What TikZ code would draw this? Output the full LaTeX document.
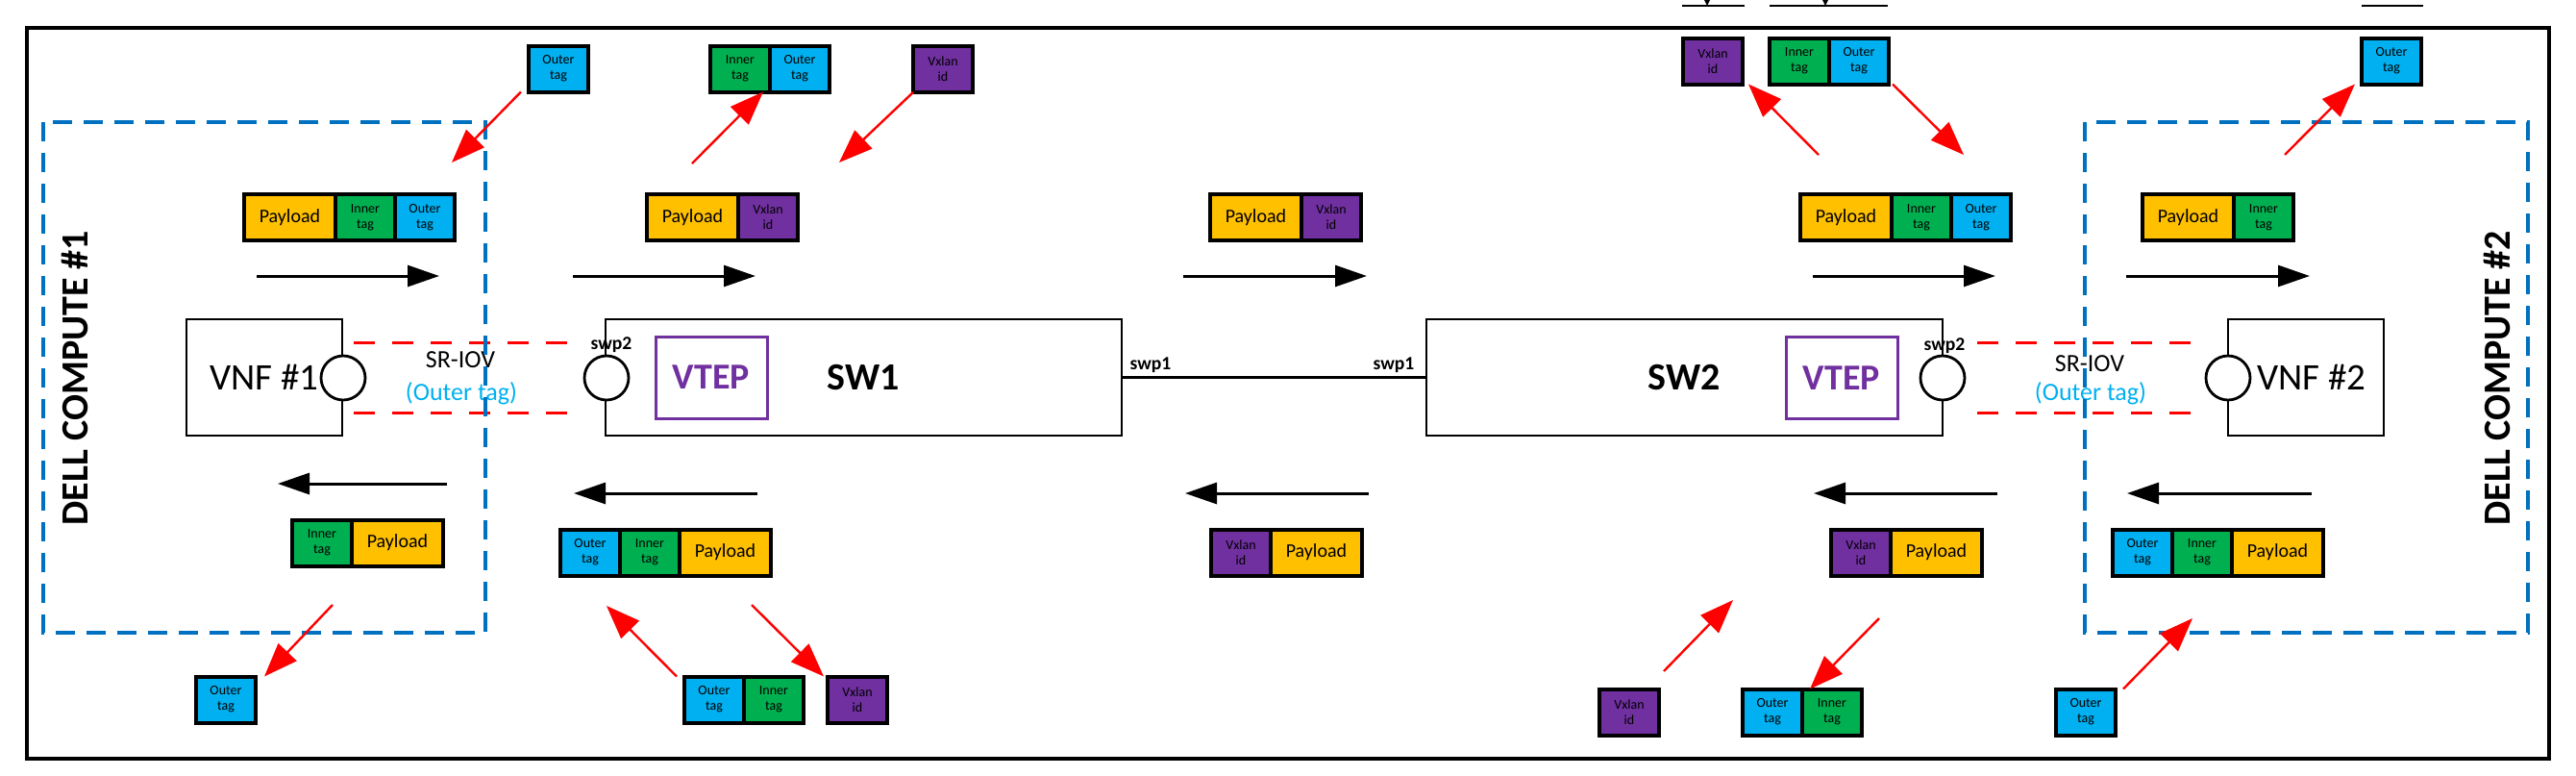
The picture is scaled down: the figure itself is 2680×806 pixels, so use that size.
\documentclass[tikz,border=0pt]{standalone}
\usepackage{fontspec}
\setmainfont{Carlito}
\usetikzlibrary{arrows.meta,calc}
\definecolor{cPay}{HTML}{FFC000}
\definecolor{cIn}{HTML}{00B050}
\definecolor{cOut}{HTML}{00B0F0}
\definecolor{cVx}{HTML}{7030A0}
\definecolor{cBlue}{HTML}{0070C0}
\definecolor{cRed}{HTML}{FF0000}
\begin{document}
\begin{tikzpicture}[x=0.25pt,y=-0.25pt,
  cellb/.style={draw, line width=1pt, minimum height=12pt, inner sep=0pt, outer sep=0pt, anchor=west},
  pay/.style={cellb, fill=cPay, minimum width=23.75pt, font=\fontsize{5}{6}\selectfont},
  tagc/.style={cellb, minimum width=15.5pt, align=center, font=\fontsize{3.5}{4}\selectfont},
  itag/.style={tagc, fill=cIn},
  otag/.style={tagc, fill=cOut},
  vtag/.style={tagc, fill=cVx},
  hostbox/.style={draw, line width=0.7pt, inner sep=0pt, outer sep=0pt, minimum height=30.25pt},
  port/.style={circle, draw, fill=white, line width=0.7pt, minimum size=11.5pt, inner sep=0pt, outer sep=0pt},
  vtepbox/.style={draw=cVx, line width=0.75pt, minimum width=29pt, minimum height=21.25pt, inner sep=0pt, text=cVx, font=\bfseries\fontsize{9.5}{11}\selectfont},
  swlabel/.style={font=\bfseries\fontsize{10}{12}\selectfont},
  vnflabel/.style={font=\fontsize{9.75}{11}\selectfont},
  swp/.style={font=\bfseries\fontsize{4.9}{6}\selectfont, inner sep=0pt},
  sriov/.style={font=\fontsize{6.5}{8}\selectfont, inner sep=0pt},
  dell/.style={rotate=90, font=\bfseries\fontsize{10}{12}\selectfont, inner sep=0pt},
  compute/.style={draw=cBlue, line width=0.85pt, dash pattern=on 5pt off 3pt},
  flow/.style={line width=0.75pt, -{Triangle[length=8.25pt, width=5.5pt]}},
  redarr/.style={draw=cRed, line width=0.6pt, -{Triangle[length=8.75pt, width=6.5pt]}, cRed},
  sriovline/.style={draw=cRed, line width=0.75pt, dash pattern=on 5.5pt off 4.5pt},
]
\useasboundingbox (0,0) rectangle (2680,806);
\fill[white] (0,0) rectangle (2680,806);

% outer frame
\draw[line width=1.1pt] (28,29) rectangle (2652,789);

% top clipped remnants
\draw[line width=0.3pt] (1750,6) -- (1815,6) (1841,6) -- (1964,6) (2457,6) -- (2521,6);
\fill (1773,0) -- (1779,0) -- (1776,6) -- cycle;
\fill (1896,0) -- (1902,0) -- (1899,6) -- cycle;

% hosts and switches
\node[hostbox, minimum width=40.5pt, vnflabel] (vnf1) at (275,392.5) {VNF \#1};
\node[hostbox, minimum width=40.5pt, vnflabel] (vnf2) at (2399,392.5) {\hspace*{3pt}VNF \#2};
\node[hostbox, minimum width=134.25pt, swlabel] (sw1) at (898.5,392.5) {SW1};
\node[hostbox, minimum width=134.25pt, swlabel] (sw2) at (1752.5,392.5) {SW2};
\node[vtepbox] (vtep1) at (740,392.5) {VTEP};
\node[vtepbox] (vtep2) at (1916,393) {VTEP};

\draw[line width=0.75pt] (sw1.east) -- (sw2.west);
\node[swp] (swp1a) at (1197,380) {swp1};
\node[swp] (swp1b) at (1450,380) {swp1};

% ports
\node[port] (pv1) at (357,393) {};
\node[port] (ps1) at (631,393) {};
\node[port] (ps2) at (2021,393) {};
\node[port] (pv2) at (2318,393) {};
\node[swp] (swp2a) at (636,359) {swp2};
\node[swp] (swp2b) at (2023,360) {swp2};

% SR-IOV links
\coordinate (l1a) at (368,356); \coordinate (l1b) at (600,356);
\coordinate (l1c) at (368,429); \coordinate (l1d) at (600,429);
\coordinate (l2a) at (2057,356); \coordinate (l2b) at (2287,356);
\coordinate (l2c) at (2057,429); \coordinate (l2d) at (2287,429);
\draw[sriovline] (l1a) -- (l1b);
\draw[sriovline] (l1c) -- (l1d);
\draw[sriovline] (l2a) -- (l2b);
\draw[sriovline] (l2c) -- (l2d);
\node[sriov] (sr1) at (479,374) {SR-IOV};
\node[sriov, text=cOut] (ot1) at (480,409) {(Outer tag)};
\node[sriov] (sr2) at (2174,378) {SR-IOV};
\node[sriov, text=cOut] (ot2) at (2175,409) {(Outer tag)};

% compute boxes
\draw[compute] (45,127) rectangle (505,658);
\draw[compute] (2169,127) rectangle (2630,658);
\node[dell] (dell1) at (77.5,393) {DELL COMPUTE \#1};
\node[dell] (dell2) at (2597.5,393) {DELL COMPUTE \#2};

% top packets
\node[pay] (p1a) at (254,226) {Payload};
\node[itag] (p1b) at (p1a.east) {Inner\\tag};
\node[otag] (p1c) at (p1b.east) {Outer\\tag};
\node[pay] (p2a) at (673,226) {Payload};
\node[vtag] (p2b) at (p2a.east) {Vxlan\\id};
\node[pay] (p3a) at (1259,226) {Payload};
\node[vtag] (p3b) at (p3a.east) {Vxlan\\id};
\node[pay] (p4a) at (1873,226) {Payload};
\node[itag] (p4b) at (p4a.east) {Inner\\tag};
\node[otag] (p4c) at (p4b.east) {Outer\\tag};
\node[pay] (p5a) at (2229,226) {Payload};
\node[itag] (p5b) at (p5a.east) {Inner\\tag};

% bottom packets
\node[itag] (q1a) at (304,564.5) {Inner\\tag};
\node[pay] (q1b) at (q1a.east) {Payload};
\node[otag] (q2a) at (583,574.5) {Outer\\tag};
\node[itag] (q2b) at (q2a.east) {Inner\\tag};
\node[pay] (q2c) at (q2b.east) {Payload};
\node[vtag] (q3a) at (1260,574.5) {Vxlan\\id};
\node[pay] (q3b) at (q3a.east) {Payload};
\node[vtag] (q4a) at (1905,574.5) {Vxlan\\id};
\node[pay] (q4b) at (q4a.east) {Payload};
\node[otag] (q5a) at (2198,574.5) {Outer\\tag};
\node[itag] (q5b) at (q5a.east) {Inner\\tag};
\node[pay] (q5c) at (q5b.east) {Payload};

% top tag boxes
\node[otag] (ta) at (550,71.5) {Outer\\tag};
\node[itag] (tb1) at (739,71.5) {Inner\\tag};
\node[otag] (tb2) at (tb1.east) {Outer\\tag};
\node[vtag] (tc) at (950,72) {Vxlan\\id};
\node[vtag] (td) at (1751,63.5) {Vxlan\\id};
\node[itag] (te1) at (1841,63.5) {Inner\\tag};
\node[otag] (te2) at (te1.east) {Outer\\tag};
\node[otag] (tf) at (2457,63.5) {Outer\\tag};

% bottom tag boxes
\node[otag] (bg) at (204,727.5) {Outer\\tag};
\node[otag] (bh1) at (712,727.5) {Outer\\tag};
\node[itag] (bh2) at (bh1.east) {Inner\\tag};
\node[vtag] (bi) at (861,727.5) {Vxlan\\id};
\node[vtag] (bj) at (1664,740.5) {Vxlan\\id};
\node[otag] (bk1) at (1813,740.5) {Outer\\tag};
\node[itag] (bk2) at (bk1.east) {Inner\\tag};
\node[otag] (bl) at (2139,740.5) {Outer\\tag};

% black flow arrows
\foreach \a/\b [count=\i] in {267/457, 596/786, 1231/1422, 1886/2076, 2212/2403}{
  \coordinate (fa\i) at (\a,287); \coordinate (fb\i) at (\b,287);
  \draw[flow] (fa\i) -- (fb\i);
}
\coordinate (ga1) at (465,503); \coordinate (gb1) at (289,503);
\draw[flow] (ga1) -- (gb1);
\foreach \a/\b [count=\i from 2] in {788/597, 1424/1233, 2078/1887, 2405/2213}{
  \coordinate (ga\i) at (\a,513); \coordinate (gb\i) at (\b,513);
  \draw[flow] (ga\i) -- (gb\i);
}

% red arrows
\coordinate (r1) at (470,169);
\coordinate (r2) at (720,170);
\coordinate (r3) at (873,169);
\coordinate (r4) at (1892,161);
\coordinate (r5) at (2043,161);
\coordinate (r6) at (2377,161);
\coordinate (r7) at (346,629);
\coordinate (r8) at (631,630);
\coordinate (r9) at (782,629);
\coordinate (r10s) at (1731,698);
\coordinate (r10) at (1803,624);
\coordinate (r11) at (1955,643);
\coordinate (r12) at (2281,643);
\draw[redarr] ([xshift=-2pt]ta.south west) -- (r1);
\draw[redarr] (r2) -- ([xshift=-1.75pt]tb1.south east);
\draw[redarr] (tc.south west) -- (r3);
\draw[redarr] (r4) -- ([xshift=1.5pt]td.south east);
\draw[redarr] ([xshift=1pt]te2.south east) -- (r5);
\draw[redarr] (r6) -- ([xshift=-1.75pt]tf.south west);
\draw[redarr] (r7) -- ([xshift=2.25pt]bg.north east);
\draw[redarr] ([xshift=-2pt]bh1.north west) -- (r8);
\draw[redarr] (r9) -- ([xshift=-1pt]bi.north west);
\draw[redarr] (r10s) -- (r10);
\draw[redarr] (r11) -- ([xshift=2pt]bk2.north west);
\draw[redarr] ([xshift=2pt]bl.north east) -- (r12);
\end{tikzpicture}
\end{document}
